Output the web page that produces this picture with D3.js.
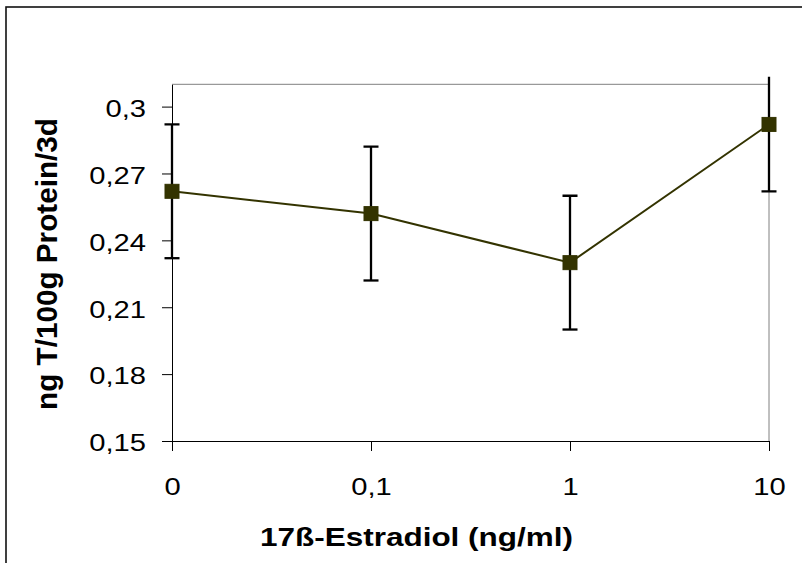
<!DOCTYPE html>
<html>
<head>
<meta charset="utf-8">
<script src="https://cdn.jsdelivr.net/npm/d3@7/dist/d3.min.js"></script>
<style>
  html, body { margin: 0; padding: 0; background: #fff; }
  svg { display: block; }
  text { font-family: "Liberation Sans", Arial, sans-serif; fill: #000; }
</style>
</head>
<body>
<svg id="chart" width="802" height="563"></svg>
<script>
// ---- data ----
const categories = ["0", "0,1", "1", "10"];
const values = [0.262, 0.252, 0.230, 0.292];
const errors = [0.030, 0.030, 0.030, 0.030];
const yTicks = [0.15, 0.18, 0.21, 0.24, 0.27, 0.30];
const yTickLabels = ["0,15", "0,18", "0,21", "0,24", "0,27", "0,3"];
const yDomain = [0.15, 0.31];
const xTitle = "17ß-Estradiol (ng/ml)";
const yTitle = "ng T/100g Protein/3d";

// ---- layout ----
const svg = d3.select("#chart");
const plot = { left: 172, right: 769, top: 84.3, bottom: 441 };
const seriesColor = "#333300";
const stretch = 1.19;

// outer frame
svg.append("rect")
  .attr("x", 6).attr("y", 7)
  .attr("width", 900).attr("height", 700)
  .attr("fill", "none").attr("stroke", "#111").attr("stroke-width", 1.6);

const x = d3.scalePoint().domain(categories).range([plot.left, plot.right]).padding(0);
const y = d3.scaleLinear().domain(yDomain).range([plot.bottom, plot.top]);

// plot area top/right border (grey)
svg.append("path")
  .attr("d", `M${plot.left},${plot.top}H${plot.right}V${plot.bottom}`)
  .attr("fill", "none").attr("stroke", "#808080").attr("stroke-width", 1);

// y axis
const yAxis = svg.append("g")
  .attr("transform", `translate(${plot.left},0)`)
  .call(d3.axisLeft(y).tickValues(yTicks).tickSize(10).tickSizeOuter(0)
    .tickFormat((d, i) => yTickLabels[i]));
yAxis.select(".domain").attr("stroke", "#000").attr("stroke-width", 1);
yAxis.selectAll(".tick line").attr("stroke", "#000");
yAxis.selectAll(".tick text")
  .attr("font-family", "Liberation Sans, Arial, sans-serif")
  .attr("font-size", 24.5)
  .attr("x", -(plot.left - 146) / stretch)
  .attr("dy", "0.4em")
  .attr("transform", `scale(${stretch},1)`);

// x axis
const xAxis = svg.append("g")
  .attr("transform", `translate(0,${plot.bottom})`)
  .call(d3.axisBottom(x).tickSize(10).tickSizeOuter(0));
xAxis.select(".domain").attr("stroke", "#000").attr("stroke-width", 1);
xAxis.selectAll(".tick line").attr("stroke", "#000");
xAxis.selectAll(".tick text")
  .attr("font-family", "Liberation Sans, Arial, sans-serif")
  .attr("font-size", 24.5)
  .attr("y", 54)
  .attr("dy", 0)
  .attr("transform", `scale(${stretch},1)`);

// clip for error bars (slightly above plot, as in reference)
svg.append("clipPath").attr("id", "clip")
  .append("rect")
  .attr("x", plot.left - 20).attr("y", plot.top - 7.5)
  .attr("width", plot.right - plot.left + 40).attr("height", plot.bottom - plot.top + 7.5);

const data = categories.map((c, i) => ({ c, v: values[i], e: errors[i] }));

// line
svg.append("path")
  .datum(data)
  .attr("fill", "none")
  .attr("stroke", seriesColor)
  .attr("stroke-width", 2)
  .attr("d", d3.line().x(d => x(d.c)).y(d => y(d.v)));

// error bars
const eb = svg.append("g").attr("clip-path", "url(#clip)");
const capW = 7.5;
data.forEach(d => {
  const cx = x(d.c);
  const y1 = y(d.v + d.e), y0 = y(d.v - d.e);
  eb.append("line").attr("x1", cx).attr("x2", cx).attr("y1", y1).attr("y2", y0)
    .attr("stroke", "#000").attr("stroke-width", 2.3);
  [y1, y0].forEach(yy => {
    eb.append("line").attr("x1", cx - capW).attr("x2", cx + capW)
      .attr("y1", yy).attr("y2", yy)
      .attr("stroke", "#000").attr("stroke-width", 2.3);
  });
});

// markers
const ms = 14;
svg.append("g").selectAll("rect")
  .data(data).join("rect")
  .attr("x", d => x(d.c) - ms / 2)
  .attr("y", d => y(d.v) - ms / 2)
  .attr("width", ms).attr("height", ms)
  .attr("fill", seriesColor)
  .attr("stroke", seriesColor).attr("stroke-width", 1);

// titles
svg.append("text")
  .attr("x", 416.5).attr("y", 546)
  .attr("text-anchor", "middle")
  .attr("font-size", 25).attr("font-weight", "bold")
  .attr("textLength", 313).attr("lengthAdjust", "spacingAndGlyphs")
  .text(xTitle);

svg.append("text")
  .attr("transform", "translate(57,264) rotate(-90)")
  .attr("text-anchor", "middle")
  .attr("font-size", 30).attr("font-weight", "bold")
  .attr("textLength", 292).attr("lengthAdjust", "spacingAndGlyphs")
  .text(yTitle);
</script>
</body>
</html>
